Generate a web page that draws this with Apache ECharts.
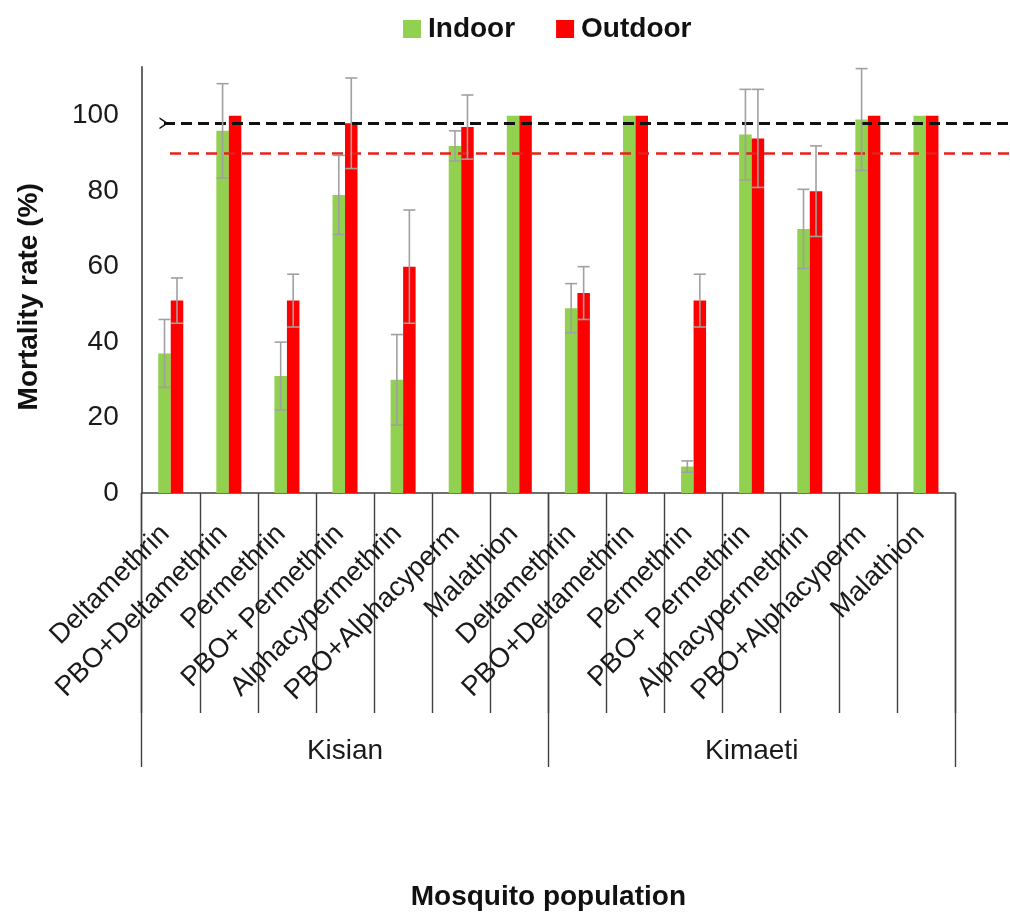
<!DOCTYPE html>
<html>
<head>
<meta charset="utf-8">
<script src="https://cdn.jsdelivr.net/npm/echarts@6/dist/echarts.min.js"></script>
<style>
html,body{margin:0;padding:0;background:#fff;}
#chart{width:1010px;height:913px;}
</style>
</head>
<body>
<div id="chart"></div>
<script>
const categories = ['Deltamethrin','PBO+Deltamethrin','Permethrin','PBO+ Permethrin','Alphacypermethrin','PBO+Alphacyperm','Malathion',
                    'Deltamethrin','PBO+Deltamethrin','Permethrin','PBO+ Permethrin','Alphacypermethrin','PBO+Alphacyperm','Malathion'];
const groups = ['Kisian','Kimaeti'];
const indoor = [37, 96, 31, 79, 30, 92, 100, 49, 100, 7, 95, 70, 99, 100];
const indoorErr = [9, 12.5, 9, 10.5, 12, 4, 0, 6.5, 0, 1.5, 12, 10.5, 13.5, 0];
const outdoor = [51, 100, 51, 98, 60, 97, 100, 53, 100, 51, 94, 80, 100, 100];
const outdoorErr = [6, 0, 7, 12, 15, 8.5, 0, 7, 0, 7, 13, 12, 0, 0];
const thresholds = [98, 90];
const yTicks = [0, 20, 40, 60, 80, 100];

const FONT = "'Liberation Sans', Arial, sans-serif";
const BAR_W = 12.5;
const AX = '#404040';

function errSeries(name, vals, errs, offset) {
  return {
    type: 'custom',
    name: name + ' error',
    xAxisIndex: 0, yAxisIndex: 0,
    z: 5,
    silent: true,
    data: vals.map((v, i) => [i, v, errs[i]]),
    encode: { x: 0, y: 1 },
    renderItem: function (params, api) {
      const e = api.value(2);
      if (!e) return null;
      const i = api.value(0), v = api.value(1);
      const top = api.coord([i, v + e]);
      const bot = api.coord([i, v - e]);
      const x = top[0] + offset;
      const cap = 6;
      const st = { stroke: '#a0a0a0', lineWidth: 1.6 };
      return {
        type: 'group',
        children: [
          { type: 'line', shape: { x1: x, y1: top[1], x2: x, y2: bot[1] }, style: st },
          { type: 'line', shape: { x1: x - cap, y1: top[1], x2: x + cap, y2: top[1] }, style: st },
          { type: 'line', shape: { x1: x - cap, y1: bot[1], x2: x + cap, y2: bot[1] }, style: st }
        ]
      };
    }
  };
}

const chart = echarts.init(document.getElementById('chart'), null, { renderer: 'canvas' });
chart.setOption({
  animation: false,
  backgroundColor: '#fff',
  textStyle: { fontFamily: FONT },
  legend: {
    data: ['Indoor', 'Outdoor'],
    left: 398, top: 10,
    icon: 'rect', itemWidth: 18, itemHeight: 18, itemGap: 41,
    textStyle: { fontFamily: FONT, fontSize: 28, fontWeight: 'bold', color: '#111', padding: [0, 0, 0, 2] }
  },
  grid: [
    { left: 141.7, right: 55, top: 66.7, bottom: 420, containLabel: false },
    { left: 164, right: 0, top: 66.7, bottom: 420, containLabel: false },
    { left: 170, right: 0, top: 66.7, bottom: 420, containLabel: false }
  ],
  xAxis: [
    {
      type: 'category', gridIndex: 0, data: categories, position: 'bottom',
      axisLine: { show: true, lineStyle: { color: AX, width: 1.6 } },
      axisTick: { show: true, interval: 0, length: 220, lineStyle: { color: AX, width: 1.4 } },
      axisLabel: { interval: 0, rotate: 45, margin: 31, fontSize: 27.5, color: '#1a1a1a', fontFamily: FONT, padding: [0, 8, 0, 0] },
      name: 'Mosquito population', nameLocation: 'middle', nameGap: 390,
      nameTextStyle: { fontFamily: FONT, fontSize: 28, fontWeight: 'bold', color: '#111' }
    },
    {
      type: 'category', gridIndex: 0, data: groups, position: 'bottom',
      axisLine: { show: false },
      axisTick: { show: true, interval: 0, length: 274, lineStyle: { color: AX, width: 1.4 } },
      axisLabel: { interval: 0, margin: 244, fontSize: 28, color: '#1a1a1a', fontFamily: FONT }
    },
    { type: 'value', gridIndex: 1, min: 0, max: 1, show: false },
    { type: 'value', gridIndex: 2, min: 0, max: 1, show: false }
  ],
  yAxis: [
    {
      type: 'value', gridIndex: 0, min: 0, max: 113, interval: 20,
      axisLine: { show: true, lineStyle: { color: AX, width: 1.6 } },
      axisTick: { show: false },
      splitLine: { show: false },
      axisLabel: {
        margin: 23, fontSize: 28, color: '#1a1a1a', fontFamily: FONT,
        formatter: v => (yTicks.indexOf(v) >= 0 ? String(v) : '')
      },
      name: 'Mortality rate (%)', nameLocation: 'middle', nameGap: 98,
      nameTextStyle: { fontFamily: FONT, fontSize: 28, fontWeight: 'bold', color: '#111', padding: [0, 34, 0, 0] }
    },
    { type: 'value', gridIndex: 1, min: 0, max: 113, show: false },
    { type: 'value', gridIndex: 2, min: 0, max: 113, show: false }
  ],
  series: [
    {
      name: 'Indoor', type: 'bar', xAxisIndex: 0, yAxisIndex: 0, data: indoor,
      barWidth: BAR_W, barGap: '0%', itemStyle: { color: '#92d050' }
    },
    {
      name: 'Outdoor', type: 'bar', xAxisIndex: 0, yAxisIndex: 0, data: outdoor,
      barWidth: BAR_W, barGap: '0%', itemStyle: { color: '#ff0000' }
    },
    errSeries('Indoor', indoor, indoorErr, -BAR_W / 2),
    errSeries('Outdoor', outdoor, outdoorErr, BAR_W / 2),
    {
      name: 'threshold98', type: 'line', xAxisIndex: 2, yAxisIndex: 1, data: [],
      z: 6, silent: true,
      markLine: {
        silent: true,
        symbol: ['path://M0,0 L5,10 L10,0 L8.6,0 L5,7.2 L1.4,0 Z', 'none'],
        symbolSize: [12, 9],
        label: { show: false },
        lineStyle: { color: '#111', type: [11, 6], width: 3 },
        data: [{ yAxis: thresholds[0] }]
      }
    },
    {
      name: 'threshold90', type: 'line', xAxisIndex: 3, yAxisIndex: 2, data: [],
      z: 6, silent: true,
      markLine: {
        silent: true,
        symbol: ['none', 'none'],
        label: { show: false },
        lineStyle: { color: '#e8201c', type: [11, 7], width: 2.6 },
        data: [{ yAxis: thresholds[1] }]
      }
    }
  ]
});
</script>
</body>
</html>
